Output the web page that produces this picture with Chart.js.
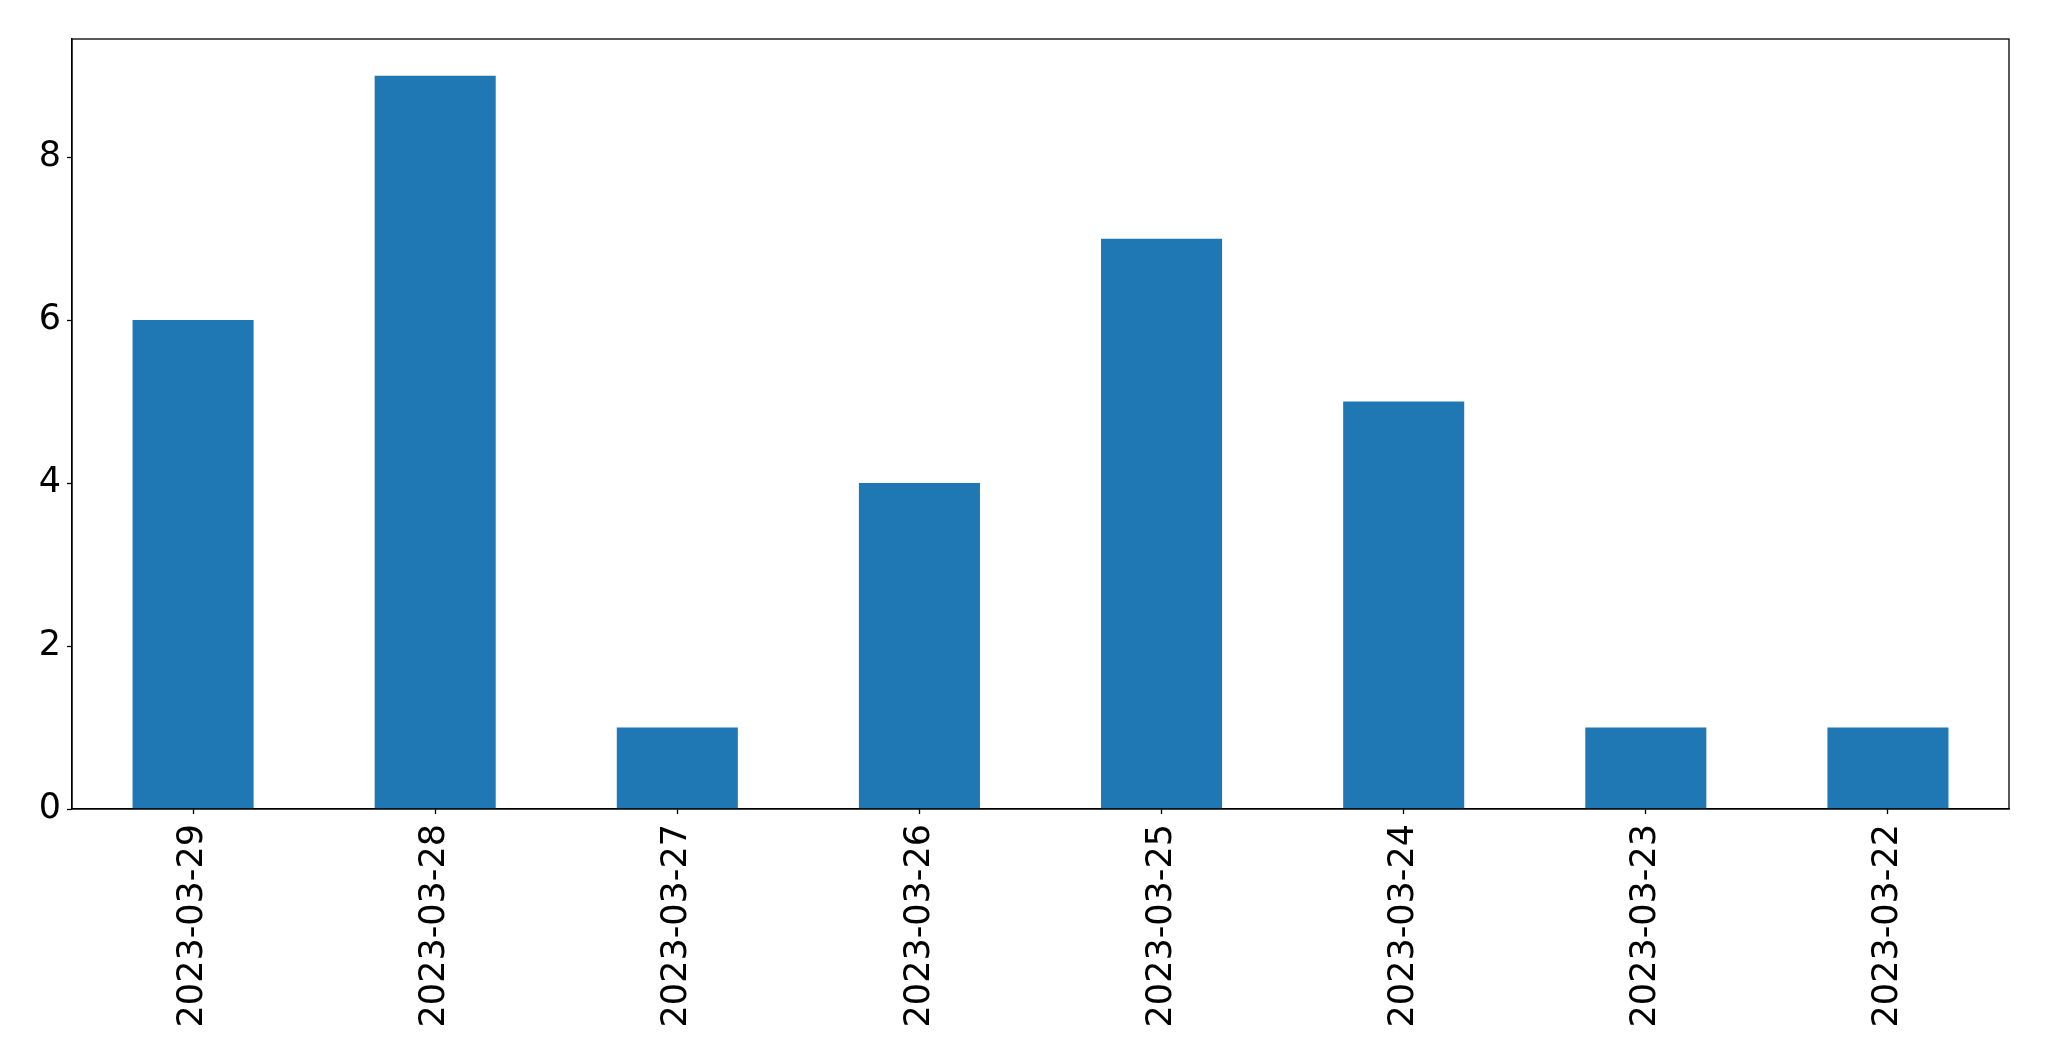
<!DOCTYPE html>
<html>
<head>
<meta charset="utf-8">
<script src="https://cdn.jsdelivr.net/npm/chart.js@4"></script>
<style>
  html, body { margin: 0; padding: 0; background: #fff; }
  #wrap { width: 2049px; height: 1061px; }
</style>
</head>
<body>
<div id="wrap"><canvas id="chart"></canvas></div>
<script>
const dates = ['2023-03-29', '2023-03-28', '2023-03-27', '2023-03-26',
               '2023-03-25', '2023-03-24', '2023-03-23', '2023-03-22'];
const counts = [6, 9, 1, 4, 7, 5, 1, 1];
const yTicks = [0, 2, 4, 6, 8];

// box round the plot area, like the matplotlib frame
const frame = {
  id: 'frame',
  afterDraw(chart) {
    const { ctx, chartArea: a } = chart;
    ctx.save();
    ctx.strokeStyle = '#000';
    ctx.lineWidth = 1.3;
    ctx.strokeRect(a.left, a.top, a.right - a.left, a.bottom - a.top);
    ctx.restore();
  }
};

Chart.defaults.font.family = 'DejaVu Sans';
Chart.defaults.color = '#000';

new Chart(document.getElementById('chart'), {
  type: 'bar',
  data: {
    labels: dates,
    datasets: [{
      data: counts,
      backgroundColor: '#1f77b4',
      borderWidth: 0,
      barPercentage: 0.5,
      categoryPercentage: 1.0
    }]
  },
  options: {
    responsive: true,
    maintainAspectRatio: false,
    animation: false,
    layout: { padding: { top: 39, right: 40, left: 0, bottom: 0 } },
    plugins: { legend: { display: false }, tooltip: { enabled: false } },
    scales: {
      x: {
        grid: { offset: false, drawOnChartArea: false, tickLength: 5, tickColor: '#000', tickWidth: 1.3 },
        border: { color: '#000', width: 1.3 },
        ticks: { minRotation: 90, maxRotation: 90, padding: 10, font: { size: 35 } },
        afterFit(scale) { scale.height = 1061 - 809; }
      },
      y: {
        min: 0,
        max: 9.45,
        grid: { drawOnChartArea: false, tickLength: 5, tickColor: '#000', tickWidth: 1.3 },
        border: { color: '#000', width: 1.3 },
        ticks: { stepSize: 2, includeBounds: false, padding: 6, font: { size: 35 } },
        afterBuildTicks(scale) { scale.ticks = yTicks.map(v => ({ value: v })); },
        afterFit(scale) { scale.width = 72; }
      }
    }
  },
  plugins: [frame]
});
</script>
</body>
</html>
